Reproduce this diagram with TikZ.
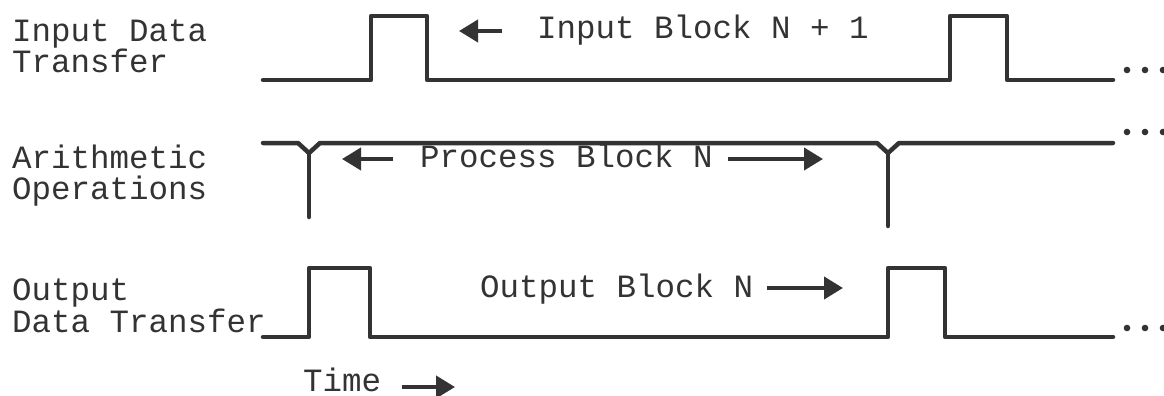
\documentclass[tikz,border=0pt]{standalone}
\usepackage{fontspec}
\setmonofont{Liberation Mono}
\usetikzlibrary{arrows.meta}
\definecolor{ink}{HTML}{333333}
\begin{document}
\begin{tikzpicture}[x=1pt,y=-1pt,
  wave/.style={draw=ink,line width=4.5pt,line join=round,line cap=round},
  lbl/.style={anchor=base west,inner sep=0pt,text=ink,font=\ttfamily\fontsize{32.5}{31}\selectfont},
  garrow/.style={draw=ink,line width=4pt,-{Triangle[length=19pt,width=22pt]}},
  dotc/.style={fill=ink,draw=none}]
\useasboundingbox (0,0) rectangle (1164,396);
% labels
\node[lbl] (l1a) at (12,42) {Input Data};
\node[lbl] (l1b) at (12,73) {Transfer};
\node[lbl] (l2a) at (12,168) {Arithmetic};
\node[lbl] (l2b) at (12,199) {Operations};
\node[lbl] (l3a) at (12,300) {Output};
\node[lbl] (l3b) at (12,332) {Data Transfer};
\node[lbl] (inb) at (537,39) {Input Block N + 1};
\node[lbl] (prb) at (420,167) {Process Block N};
\node[lbl] (outb) at (480,297) {Output Block N};
\node[lbl] (time) at (303,391) {Time};
% waveforms
\draw[wave] (263,80) -- (371,80) -- (371,16) -- (427,16) -- (427,80) -- (950,80) -- (950,16) -- (1007,16) -- (1007,80) -- (1113,80);
\draw[wave] (263,143) -- (298,143) -- (309,153) -- (320,143) -- (877,143) -- (888,153) -- (899,143) -- (1113,143);
\draw[wave] (309,153) -- (309,217);
\draw[wave] (888,153) -- (888,226);
\draw[wave] (263,337) -- (309,337) -- (309,268) -- (370,268) -- (370,337) -- (888,337) -- (888,268) -- (945,268) -- (945,337) -- (1113,337);
% arrows
\coordinate (a1s) at (502,31); \coordinate (a1e) at (459,31);
\coordinate (a2s) at (393,159); \coordinate (a2e) at (342,159);
\coordinate (a3s) at (728,159); \coordinate (a3e) at (823,159);
\coordinate (a4s) at (767,288); \coordinate (a4e) at (843,288);
\coordinate (a5s) at (402,387); \coordinate (a5e) at (455,387);
\draw[garrow] (a1s) -- (a1e);
\draw[garrow] (a2s) -- (a2e);
\draw[garrow] (a3s) -- (a3e);
\draw[garrow] (a4s) -- (a4e);
\draw[garrow] (a5s) -- (a5e);
% ellipsis dots
\foreach \yy in {70,132,328} {
  \foreach \xx in {1127,1145,1163} {
    \fill[dotc] (\xx,\yy) circle (3.3pt);
  }
}
\end{tikzpicture}
\end{document}
